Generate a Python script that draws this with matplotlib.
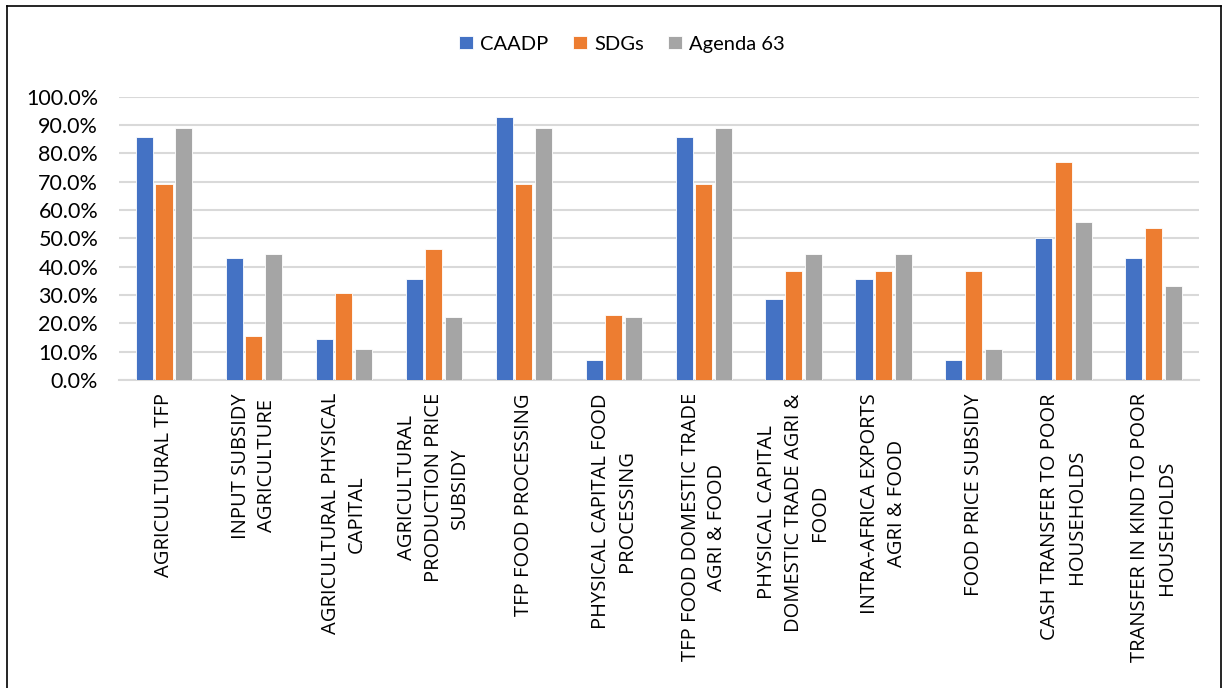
import matplotlib
matplotlib.use("Agg")
import matplotlib.pyplot as plt
import numpy as np
from matplotlib.lines import Line2D
from matplotlib.ticker import PercentFormatter

categories = [
    "AGRICULTURAL TFP",
    "INPUT SUBSIDY\nAGRICULTURE",
    "AGRICULTURAL PHYSICAL\nCAPITAL",
    "AGRICULTURAL\nPRODUCTION PRICE\nSUBSIDY",
    "TFP FOOD PROCESSING",
    "PHYSICAL CAPITAL FOOD\nPROCESSING",
    "TFP FOOD DOMESTIC TRADE\nAGRI & FOOD",
    "PHYSICAL CAPITAL\nDOMESTIC TRADE AGRI &\nFOOD",
    "INTRA-AFRICA EXPORTS\nAGRI & FOOD",
    "FOOD PRICE SUBSIDY",
    "CASH TRANSFER TO POOR\nHOUSEHOLDS",
    "TRANSFER IN KIND TO POOR\nHOUSEHOLDS",
]

series_names = ["CAADP", "SDGs", "Agenda 63"]
caadp = [85.7, 42.9, 14.3, 35.7, 92.9, 7.1, 85.7, 28.6, 35.7, 7.1, 50.0, 42.9]
sdgs = [69.2, 15.4, 30.8, 46.2, 69.2, 23.1, 69.2, 38.5, 38.5, 38.5, 76.9, 53.8]
agenda63 = [88.9, 44.4, 11.1, 22.2, 88.9, 22.2, 88.9, 44.4, 44.4, 11.1, 55.6, 33.3]
colors = ["#4472C4", "#ED7D31", "#A5A5A5"]

fig = plt.figure(figsize=(12.23, 6.88), dpi=100)
ax = fig.add_axes([0.0973, 0.4477, 0.8827, 0.4117])

x = np.arange(len(categories))
step = 0.219
width = 0.19
for i, (vals, name, col) in enumerate(zip([caadp, sdgs, agenda63], series_names, colors)):
    ax.bar(x + (i - 1) * step, np.array(vals) / 100.0, width=width, color=col,
           edgecolor="white", linewidth=0.6, label=name, zorder=3)

ax.set_xlim(-0.5, len(categories) - 0.5)
ax.set_ylim(0, 1.0)
ax.set_yticks(np.arange(0, 1.01, 0.1))
ax.yaxis.set_major_formatter(PercentFormatter(xmax=1.0, decimals=1))
ax.grid(axis="y", color="#D9D9D9", linewidth=1.5, zorder=0)
ax.set_axisbelow(True)
for side in ["top", "right", "left"]:
    ax.spines[side].set_visible(False)
ax.spines["bottom"].set_color("#D9D9D9")
ax.spines["bottom"].set_linewidth(1.5)
ax.tick_params(axis="both", length=0)
ax.tick_params(axis="y", pad=15, labelsize=15.5)
for lab in ax.get_yticklabels():
    lab.set_fontfamily("Lato")

ax.set_xticks(x)
ax.set_xticklabels(categories, rotation=90, ha="center", va="top",
                   multialignment="center", fontfamily="Open Sans",
                   fontsize=14.5, linespacing=1.43)
ax.tick_params(axis="x", pad=9.5)

leg = fig.legend(loc="center", bbox_to_anchor=(0.5086, 0.936), ncol=3, frameon=False,
                 prop={"family": "Lato", "size": 14.5}, handlelength=0.7,
                 handleheight=0.6, handletextpad=0.35, columnspacing=1.2)

# chart frame
frame_kw = dict(color="black", linewidth=1.2, transform=fig.transFigure)
fig.add_artist(Line2D([0.0057, 0.9985], [0.9913, 0.9913], **frame_kw))
fig.add_artist(Line2D([0.0057, 0.0057], [0.0, 0.9913], **frame_kw))
fig.add_artist(Line2D([0.9985, 0.9985], [0.0, 0.9913], **frame_kw))

fig.savefig("out.png", dpi=100)
